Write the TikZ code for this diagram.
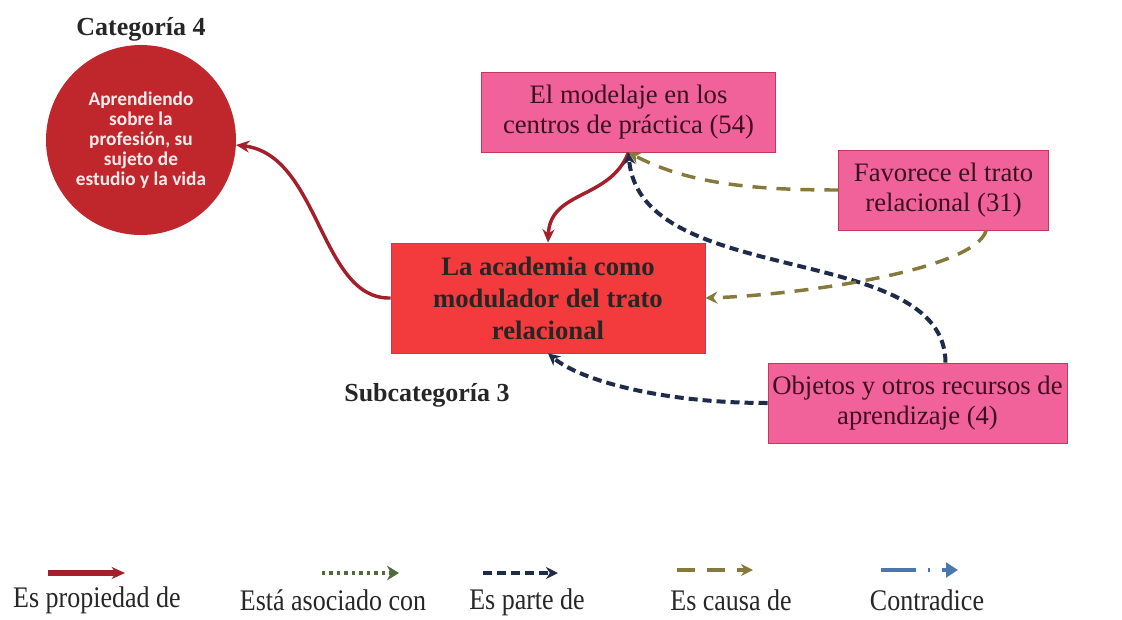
\documentclass[tikz,border=0pt]{standalone}
\usepackage{fontspec}
\setmainfont{Liberation Serif}
\newfontfamily\calfont{Carlito}
\usetikzlibrary{arrows.meta,positioning}
\definecolor{rojolinea}{HTML}{A3202B}
\definecolor{azulosc}{HTML}{1E2B4B}
\definecolor{oliva}{HTML}{857A3C}
\definecolor{verdeosc}{HTML}{4F6B3C}
\definecolor{azulclaro}{HTML}{4A78AE}
\definecolor{rojocirc}{HTML}{C0272D}
\definecolor{rosa}{HTML}{F2629A}
\definecolor{rojocaja}{HTML}{F33B3D}
\definecolor{bordecaja}{HTML}{C43A55}
\definecolor{textocaja}{HTML}{3B0F1F}

\begin{document}
\begin{tikzpicture}[x=0.75pt,y=-0.75pt,
      caja/.style={draw=bordecaja, line width=0.6pt, fill=rosa, text=textocaja, align=center,
        font=\fontsize{20}{23}\selectfont, minimum height=60pt},
      central/.style={draw=bordecaja, line width=0.6pt, fill=rojocaja, text=black!85, align=center,
        font=\fontsize{20}{24}\selectfont\bfseries, minimum width=235.5pt, minimum height=82.5pt},
      titulo/.style={text=black!85, font=\fontsize{19.5}{22}\selectfont\bfseries},
      leyenda/.style={text=black!85, font=\fontsize{19.5}{22}\selectfont},
      propiedad/.style={draw=rojolinea, line width=2.6pt, -{Stealth[length=10pt,width=9pt]}},
      asociado/.style={draw=verdeosc, line width=2.8pt, dash pattern=on 2.6pt off 3pt, -{Stealth[length=9pt,width=11pt]}},
      parte/.style={draw=azulosc, line width=3pt, dash pattern=on 6.75pt off 3.75pt, -{Stealth[length=9pt,width=9pt]}},
      causa/.style={draw=oliva, line width=2.6pt, dash pattern=on 10.5pt off 7.5pt, -{Stealth[length=9pt,width=9pt]}},
      contradice/.style={draw=azulclaro, line width=2.8pt, dash pattern=on 26pt off 9pt on 2pt off 9pt, -{Triangle[length=9pt,width=11pt]}}]
     \useasboundingbox (0,0) rectangle (1122,619);
     % nodos
     \node[circle, fill=rojocirc, minimum size=142.5pt, inner sep=0pt, text=red!8, align=center,
       font=\calfont\fontsize{14.5}{15}\selectfont\bfseries,
       label={[titulo, yshift=-1pt]above:Categoría 4}] (aprend) at (141,140)
       {Aprendiendo\\ sobre la\\ profesión, su\\ sujeto de\\ estudio y la vida};
     \node[caja, minimum width=221pt] (modelaje) at (628.5,112) {El modelaje en los\\ centros de práctica (54)};
     \node[caja, minimum width=157pt] (favorece) at (943.5,190) {Favorece el trato\\ relacional (31)};
     \node[central] (academia) at (548,298) {La academia como\\ modulador del trato\\ relacional};
     \node[caja, minimum width=203pt] (objetos) at (917.5,403) {Objetos y otros recursos de\\ aprendizaje (4)};
     \node[titulo] (subcat) at (427,395) {Subcategoría 3};
     % relaciones
     \draw[propiedad] (academia.west) .. controls (320,300) and (320,155) .. (aprend.-3);
     \draw[propiedad] (modelaje.south) .. controls (610,200) and (550,190) .. (academia.north);
     \draw[causa] (favorece.west) .. controls (760,190) and (690,185) .. (modelaje.south);
     \draw[parte] ([xshift=21pt]objetos.north) .. controls (945,240) and (640,290) .. (modelaje.south);
     \draw[causa] ([xshift=32pt]favorece.south) .. controls (975,270) and (800,295) .. (academia.east);
     \draw[parte] (objetos.west) .. controls (660,403) and (580,380) .. (academia.south);
     % leyenda
     \coordinate (l1a) at (48,573);  \coordinate (l1b) at (125,573);
     \coordinate (l2a) at (322,573); \coordinate (l2b) at (399,573);
     \coordinate (l3a) at (483,573); \coordinate (l3b) at (558,573);
     \coordinate (l4a) at (677,570); \coordinate (l4b) at (753,570);
     \coordinate (l5a) at (881,570); \coordinate (l5b) at (958,570);
     \draw[propiedad, line width=3.8pt] (l1a) -- (l1b);
     \draw[asociado] (l2a) -- (l2b);
     \draw[parte] (l3a) -- (l3b);
     \draw[causa, line width=3pt, dash pattern=on 13.5pt off 9pt] (l4a) -- (l4b);
     \draw[contradice] (l5a) -- (l5b);
     \node[leyenda] (ley1) at (97,600) {\scalebox{1}[1.15]{Es propiedad de}};
     \node[leyenda] (ley2) at (333,600) {\scalebox{1}[1.15]{Está asociado con}};
     \node[leyenda] (ley3) at (527,602) {\scalebox{1}[1.15]{Es parte de}};
     \node[leyenda] (ley4) at (731,600) {\scalebox{1}[1.15]{Es causa de}};
     \node[leyenda] (ley5) at (927,600) {\scalebox{1}[1.15]{Contradice}};
    \end{tikzpicture}
\end{document}
